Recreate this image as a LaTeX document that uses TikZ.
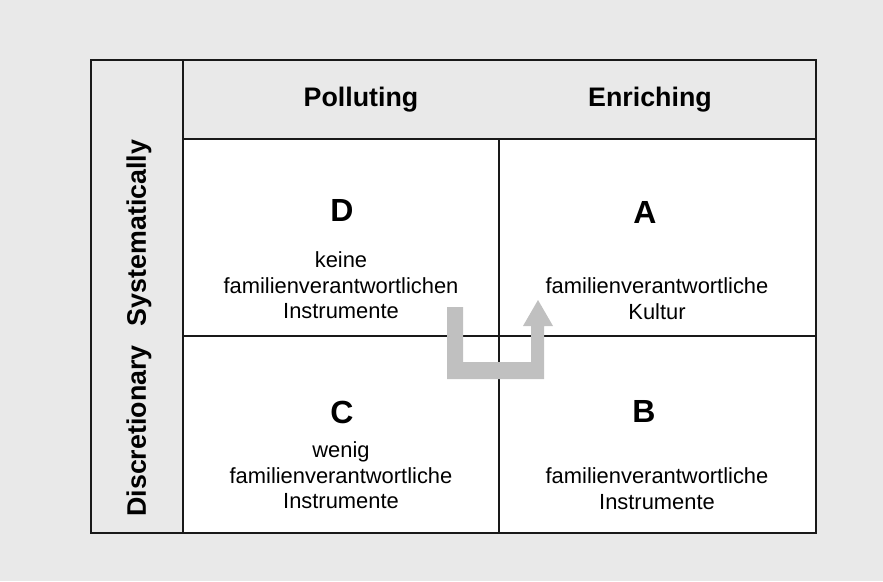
\documentclass[tikz,border=0pt]{standalone}
\usepackage{fontspec}
\setmainfont{Liberation Sans}
\usetikzlibrary{positioning}
\definecolor{PageGray}{RGB}{233,233,233}
\definecolor{ArrowGray}{RGB}{192,192,192}
\definecolor{LineBlack}{RGB}{25,25,25}

\begin{document}
\begin{tikzpicture}[x=1pt, y=-1pt,
	hd/.style={font=\fontsize{26.8}{30}\selectfont\bfseries},
	ltr/.style={font=\fontsize{32}{36}\selectfont\bfseries, inner sep=0pt},
	txt/.style={font=\fontsize{21.9}{25.5}\selectfont, align=center, inner sep=0pt},
	frame/.style={draw=LineBlack, line width=1.5pt},
	grid/.style={draw=LineBlack, line width=1.2pt}]
	\useasboundingbox[fill=PageGray] (0,0) rectangle (883,581);
	% table
	\fill[white] (183,139) rectangle (816,533);
	\draw[frame] (91,60) rectangle (816,533);
	\draw[frame] (183,60) -- (183,533);
	\draw[frame] (183,139) -- (816,139);
	\draw[grid] (499,139) -- (499,533);
	\draw[grid] (183,336) -- (816,336);
	% heads
	\node[hd] (pol) at (361,100) {Polluting};
	\node[hd] (enr) at (650,100) {Enriching};
	\node[hd, rotate=90] (sys) at (139,233) {Systematically};
	\node[hd, rotate=90] (dis) at (139,431) {Discretionary};
	% cells
	\node[ltr] (D) at (342,210) {D};
	\node[txt] (Dtx) at (341,285.5) {keine\\familienverantwortlichen\\Instrumente};
	\node[ltr] (A) at (645,212) {A};
	\node[txt] (Atx) at (657,298.5) {familienverantwortliche\\Kultur};
	\node[ltr] (C) at (342,412) {C};
	\node[txt] (Ctx) at (341,475.5) {wenig\\familienverantwortliche\\Instrumente};
	\node[ltr] (B) at (644,411) {B};
	\node[txt] (Btx) at (657,488.5) {familienverantwortliche\\Instrumente};
	% move arrow
	\fill[ArrowGray] (447,307) -- (463,307) -- (463,362) -- (531,362) -- (531,326)
		-- (523,326) -- (538,300) -- (553,326) -- (544,326) -- (544,379)
		-- (447,379) -- cycle;
\end{tikzpicture}
\end{document}
